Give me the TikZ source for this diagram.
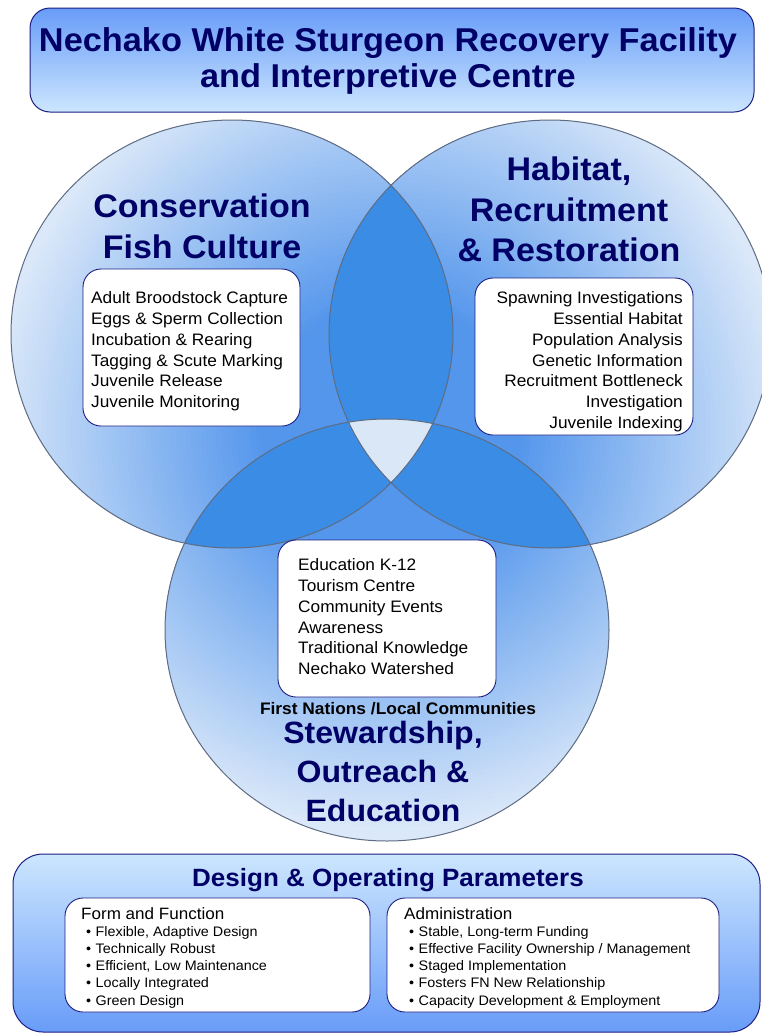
\documentclass[tikz,border=0pt]{standalone}
\usepackage{fontspec}
\setmainfont{Liberation Sans}[FakeStretch=1.04]
\definecolor{cNavy}{RGB}{0,0,102}
\definecolor{vA}{RGB}{84,150,236}
\definecolor{vB}{RGB}{218,232,249}
\definecolor{cLens}{RGB}{58,140,228}
\definecolor{cTri}{RGB}{218,231,246}
\definecolor{cRim}{RGB}{95,108,130}
\definecolor{cBord}{RGB}{30,30,130}
\definecolor{tA}{RGB}{104,156,248}
\definecolor{tB}{RGB}{204,230,254}
\tikzset{
  CL/.style={insert path={(232,334) ellipse [x radius=221pt, y radius=214pt]}},
  CR/.style={insert path={(550,334) ellipse [x radius=221pt, y radius=214pt]}},
  CB/.style={insert path={(387,630) ellipse [x radius=222pt, y radius=211pt]}},
  rimline/.style={draw=cRim, line width=1pt},
  tbox/.style={rectangle, rounded corners=20pt, draw=cBord, line width=1pt, top color=tA, bottom color=tB, inner sep=0pt},
  bbox/.style={rectangle, rounded corners=30pt, draw=cBord, line width=1pt, top color=tB, bottom color=tA, inner sep=0pt},
  wbox/.style={rectangle, rounded corners=18pt, draw=cBord, line width=0.9pt, fill=white, inner sep=0pt},
  head/.style={inner sep=0pt, text=cNavy, font=\bfseries\fontsize{32.7}{41}\selectfont, align=center, anchor=north},
  items/.style={inner sep=0pt, text=black, font=\fontsize{16.6}{20.8}\selectfont},
  plist/.style={inner sep=0pt, text=black, anchor=north west, align=left, font=\fontsize{13.8}{17.2}\selectfont},
}
\newcommand{\bul}{\makebox[9.5pt][l]{•}}
\begin{document}
\begin{tikzpicture}[x=1pt, y=-1pt]
\useasboundingbox (0,0) rectangle (762,1034);
\fill[white] (0,0) rectangle (762,1034);

% Venn circles (radial gradient towards the centre of the diagram)
\begin{scope}
  \clip[CL, CR, CB];
  \fill[vB] (391,432) circle (460pt);
  \foreach \i in {0,...,54} {
    \pgfmathsetmacro\rr{400-\i*5}
    \pgfmathsetmacro\pp{\i/54*100}
    \fill[vA!\pp!vB] (391,432) circle (\rr pt);
  }
\end{scope}
\begin{scope}\clip[CL]; \fill[cLens, CR];\end{scope}
\begin{scope}\clip[CL]; \fill[cLens, CB];\end{scope}
\begin{scope}\clip[CR]; \fill[cLens, CB];\end{scope}
\begin{scope}\clip[CL]; \clip[CR]; \fill[cTri, CB];\end{scope}
\draw[rimline, CL];
\draw[rimline, CR];
\draw[rimline, CB];

% title
\node[tbox, minimum width=724pt, minimum height=104pt] (titlebox) at (392,60) {};
\node[inner sep=0pt, text=cNavy, anchor=north, align=center, font=\bfseries\fontsize{33}{36}\selectfont] (title) at (388,27)
  {Nechako White Sturgeon Recovery Facility\\and Interpretive Centre};

% circle headings
\node[head] (hcons) at (202,194) {Conservation\\Fish Culture};
\node[head, font=\bfseries\fontsize{32.7}{40.5}\selectfont] (hhab) at (569,157) {Habitat,\\Recruitment\\\& Restoration};
\node[head, font=\bfseries\fontsize{30.8}{39}\selectfont] (hstew) at (383,721) {Stewardship,\\Outreach \&\\Education};
\node[inner sep=0pt, anchor=base, font=\bfseries\fontsize{16.7}{20}\selectfont] (fn) at (398,714) {First Nations /Local Communities};

% white boxes
\node[wbox, minimum width=217pt, minimum height=157pt] (lbox) at (191.5,347.5) {};
\node[wbox, minimum width=218pt, minimum height=157pt] (rbox) at (584,356.5) {};
\node[wbox, minimum width=218pt, minimum height=157pt] (bbox) at (387,618.5) {};

\node[items, anchor=north west, align=left] (ltext) at (91,291.5)
  {Adult Broodstock Capture\\Eggs \& Sperm Collection\\Incubation \& Rearing\\Tagging \& Scute Marking\\Juvenile Release\\Juvenile Monitoring};
\node[items, anchor=north east, align=right] (rtext) at (683,291.5)
  {Spawning Investigations\\Essential Habitat\\Population Analysis\\Genetic Information\\Recruitment Bottleneck\\Investigation\\Juvenile Indexing};
\node[items, anchor=north west, align=left] (btext) at (298,558.5)
  {Education K-12\\Tourism Centre\\Community Events\\Awareness\\Traditional Knowledge\\Nechako Watershed};

% bottom panel
\node[bbox, minimum width=747pt, minimum height=178pt] (dbox) at (386.5,943) {};
\node[inner sep=0pt, anchor=base, text=cNavy, font=\bfseries\fontsize{25}{30}\selectfont] (dtitle) at (388,886) {Design \& Operating Parameters};
\node[wbox, minimum width=305pt, minimum height=114pt] (ffbox) at (217.5,955) {};
\node[wbox, minimum width=332pt, minimum height=114pt] (adbox) at (553,955) {};
\node[inner sep=0pt, anchor=base west, font=\fontsize{16.4}{20}\selectfont] (ffhead) at (81,919) {Form and Function};
\node[plist] (fflist) at (86,926)
  {\bul Flexible, Adaptive Design\\\bul Technically Robust\\\bul Efficient, Low Maintenance\\\bul Locally Integrated\\\bul Green Design};
\node[inner sep=0pt, anchor=base west, font=\fontsize{16.4}{20}\selectfont] (adhead) at (404,919) {Administration};
\node[plist] (adlist) at (409,926)
  {\bul Stable, Long-term Funding\\\bul Effective Facility Ownership / Management\\\bul Staged Implementation\\\bul Fosters FN New Relationship\\\bul Capacity Development \& Employment};
\end{tikzpicture}
\end{document}
